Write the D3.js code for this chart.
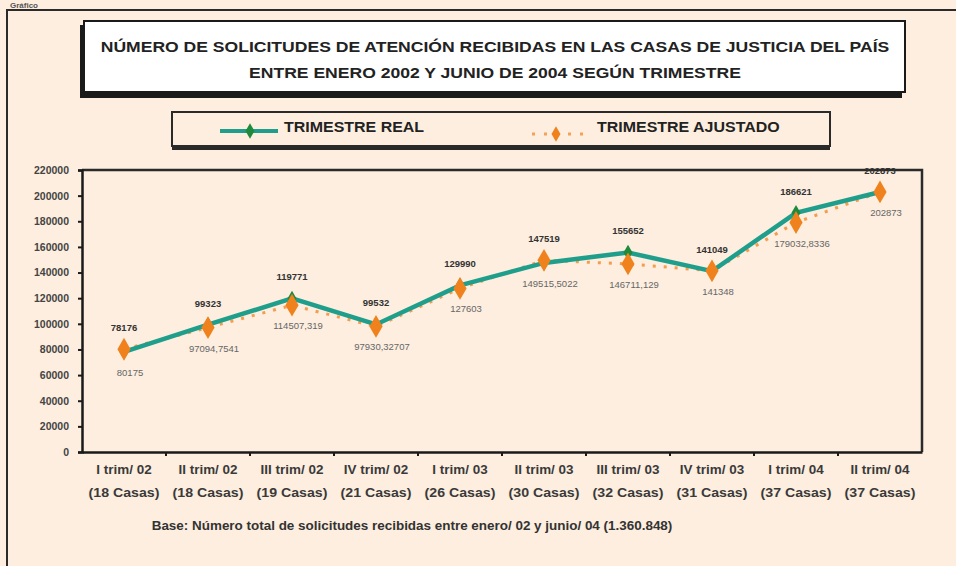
<!DOCTYPE html>
<html>
<head>
<meta charset="utf-8">
<script src="https://cdn.jsdelivr.net/npm/d3@7"></script>
<style>
  body { margin: 0; background: #fdeedf; }
  svg { display: block; }
  text { font-family: "Liberation Sans", Arial, sans-serif; }
</style>
</head>
<body>
<div id="grafico"></div>
<script>
// datos del gráfico
const trimestres = ["I trim/ 02", "II trim/ 02", "III trim/ 02", "IV trim/ 02", "I trim/ 03",
  "II trim/ 03", "III trim/ 03", "IV trim/ 03", "I trim/ 04", "II trim/ 04"];
const casas = ["(18 Casas)", "(18 Casas)", "(19 Casas)", "(21 Casas)", "(26 Casas)",
  "(30 Casas)", "(32 Casas)", "(31 Casas)", "(37 Casas)", "(37 Casas)"];
const real = [78176, 99323, 119771, 99532, 129990, 147519, 155652, 141049, 186621, 202873];
const ajustado = [80175, 97094.7541, 114507.319, 97930.32707, 127603, 149515.5022, 146711.129, 141348, 179032.8336, 202873];
const ticksY = [0, 20000, 40000, 60000, 80000, 100000, 120000, 140000, 160000, 180000, 200000, 220000];

const titulo1 = "NÚMERO DE SOLICITUDES DE ATENCIÓN RECIBIDAS EN LAS CASAS DE JUSTICIA DEL PAÍS";
const titulo2 = "ENTRE ENERO 2002 Y JUNIO DE 2004 SEGÚN TRIMESTRE";
const pie = "Base: Número total de solicitudes recibidas entre enero/ 02 y junio/ 04 (1.360.848)";

const W = 956, H = 566;
const verde = "#1f9e8c", verdeMarca = "#1d8a3e", naranja = "#f0821e";

// ensancha el texto (la fuente original es más ancha)
function ensanchar(sel, f) {
  sel.each(function () {
    let w = this.getComputedTextLength();
    d3.select(this).attr("textLength", w * f).attr("lengthAdjust", "spacingAndGlyphs");
  });
}

let svg = d3.select("#grafico").append("svg")
  .attr("width", W).attr("height", H);

svg.append("rect").attr("width", W).attr("height", H).attr("fill", "#fdeedf");

// texto de arriba (cortado en el original)
svg.append("text").attr("x", 10).attr("y", 8)
  .attr("font-size", 8).attr("font-weight", "bold").attr("fill", "#555")
  .text("Gráfico");

// marco exterior
svg.append("rect").attr("x", 7).attr("y", 10).attr("width", W + 20).attr("height", H + 20)
  .attr("fill", "none").attr("stroke", "#2a2a2a").attr("stroke-width", 2);

// caja del título con sombra
svg.append("rect").attr("x", 80).attr("y", 25).attr("width", 822).attr("height", 73)
  .attr("fill", "#1a1a1a");
svg.append("rect").attr("x", 84).attr("y", 21).attr("width", 821).attr("height", 71)
  .attr("fill", "#fff").attr("stroke", "#1a1a1a").attr("stroke-width", 2);
svg.append("text").attr("x", 495).attr("y", 52).attr("text-anchor", "middle")
  .attr("font-size", 15).attr("font-weight", "bold").attr("fill", "#222").text(titulo1)
  .call(ensanchar, 1.17);
svg.append("text").attr("x", 495).attr("y", 78).attr("text-anchor", "middle")
  .attr("font-size", 15).attr("font-weight", "bold").attr("fill", "#222").text(titulo2)
  .call(ensanchar, 1.17);

// leyenda
svg.append("rect").attr("x", 172).attr("y", 115).attr("width", 658).attr("height", 35)
  .attr("fill", "#2a2a2a");
svg.append("rect").attr("x", 172).attr("y", 112).attr("width", 658).attr("height", 34)
  .attr("fill", "#fdeedf").attr("stroke", "#2a2a2a").attr("stroke-width", 2);

let diamante = d3.symbol().type(d3.symbolDiamond).size(70);

svg.append("line").attr("x1", 220).attr("x2", 278).attr("y1", 131).attr("y2", 131)
  .attr("stroke", verde).attr("stroke-width", 4);
svg.append("path").attr("d", diamante).attr("transform", "translate(250,131)").attr("fill", verdeMarca);
svg.append("text").attr("x", 284).attr("y", 132).attr("font-size", 14).attr("font-weight", "bold")
  .attr("fill", "#222").text("TRIMESTRE REAL").call(ensanchar, 1.14);

svg.append("line").attr("x1", 532).attr("x2", 586).attr("y1", 134).attr("y2", 134)
  .attr("stroke", naranja).attr("stroke-width", 3).attr("stroke-dasharray", "3,9").attr("opacity", 0.7);
svg.append("path").attr("d", diamante).attr("transform", "translate(556,134)").attr("fill", naranja);
svg.append("text").attr("x", 597).attr("y", 132).attr("font-size", 14).attr("font-weight", "bold")
  .attr("fill", "#222").text("TRIMESTRE AJUSTADO").call(ensanchar, 1.14);

// escalas
const x0 = 82, x1 = 922, y0 = 452, y1 = 170;
let x = d3.scaleBand().domain(trimestres).range([x0, x1]);
let y = d3.scaleLinear().domain([0, 220000]).range([y0, y1]);
let cx = d => x(d) + x.bandwidth() / 2;

// borde del área
svg.append("path").attr("d", `M${x0},${y1}H${x1}V${y0}`)
  .attr("fill", "none").attr("stroke", "#2a2a2a").attr("stroke-width", 2.5);

// eje Y
let ejeY = svg.append("g").attr("transform", `translate(${x0},0)`)
  .call(d3.axisLeft(y).tickValues(ticksY).tickSize(4).tickPadding(9).tickFormat(d3.format("d")));
ejeY.select(".domain").attr("stroke", "#1a1a1a").attr("stroke-width", 2.5);
ejeY.selectAll(".tick line").attr("stroke", "#1a1a1a").attr("stroke-width", 2);
ejeY.selectAll(".tick text").attr("font-size", 10.5).attr("font-weight", "bold").attr("fill", "#444")
  .style("font-family", "'Liberation Sans', Arial");

// eje X
let ejeX = svg.append("g").attr("transform", `translate(0,${y0})`)
  .call(d3.axisBottom(x).tickSize(0).tickFormat(""));
ejeX.select(".domain").attr("stroke", "#1a1a1a").attr("stroke-width", 2.5);
svg.selectAll(".sep").data(trimestres.slice(1)).enter().append("line")
  .attr("x1", d => x(d)).attr("x2", d => x(d)).attr("y1", y0).attr("y2", y0 + 4)
  .attr("stroke", "#1a1a1a").attr("stroke-width", 2);

svg.selectAll(".lab1").data(trimestres).enter().append("text")
  .attr("x", d => cx(d)).attr("y", 474).attr("text-anchor", "middle")
  .attr("font-size", 12).attr("font-weight", "bold").attr("fill", "#3a3a3a")
  .text(d => d).call(ensanchar, 1.12);
svg.selectAll(".lab2").data(casas).enter().append("text")
  .attr("x", (d, i) => cx(trimestres[i])).attr("y", 497).attr("text-anchor", "middle")
  .attr("font-size", 12).attr("font-weight", "bold").attr("fill", "#3a3a3a")
  .text(d => d).call(ensanchar, 1.18);

// línea ajustada
let linea = d3.line().x((d, i) => cx(trimestres[i])).y(d => y(d));
svg.append("path").datum(ajustado).attr("d", linea)
  .attr("fill", "none").attr("stroke", naranja).attr("stroke-width", 3)
  .attr("stroke-dasharray", "3,8").attr("opacity", 0.75);

// línea real
svg.append("path").datum(real).attr("d", linea)
  .attr("fill", "none").attr("stroke", verde).attr("stroke-width", 4.5);
svg.selectAll(".mreal").data(real).enter().append("path")
  .attr("d", diamante)
  .attr("transform", (d, i) => `translate(${cx(trimestres[i])},${y(d)})`)
  .attr("fill", verdeMarca);

let diamanteGrande = d3.symbol().type(d3.symbolDiamond).size(150);
svg.selectAll(".majus").data(ajustado).enter().append("path")
  .attr("d", diamanteGrande)
  .attr("transform", (d, i) => `translate(${cx(trimestres[i])},${y(d)})`)
  .attr("fill", naranja);

// etiquetas de valores
svg.selectAll(".vreal").data(real).enter().append("text")
  .attr("x", (d, i) => cx(trimestres[i]))
  .attr("y", (d, i) => y(Math.max(d, ajustado[i])) - 18)
  .attr("text-anchor", "middle").attr("font-size", 9.5).attr("font-weight", "bold").attr("fill", "#333")
  .text(d => d);
svg.selectAll(".vajus").data(ajustado).enter().append("text")
  .attr("x", (d, i) => cx(trimestres[i]) + 6)
  .attr("y", (d, i) => y(Math.min(d, real[i])) + 24)
  .attr("text-anchor", "middle").attr("font-size", 9.5).attr("fill", "#666")
  .text(d => String(d).replace(".", ","));

// pie
svg.append("text").attr("x", 412).attr("y", 530).attr("text-anchor", "middle")
  .attr("font-size", 12).attr("font-weight", "bold").attr("fill", "#333").text(pie)
  .call(ensanchar, 1.12);
</script>
</body>
</html>
